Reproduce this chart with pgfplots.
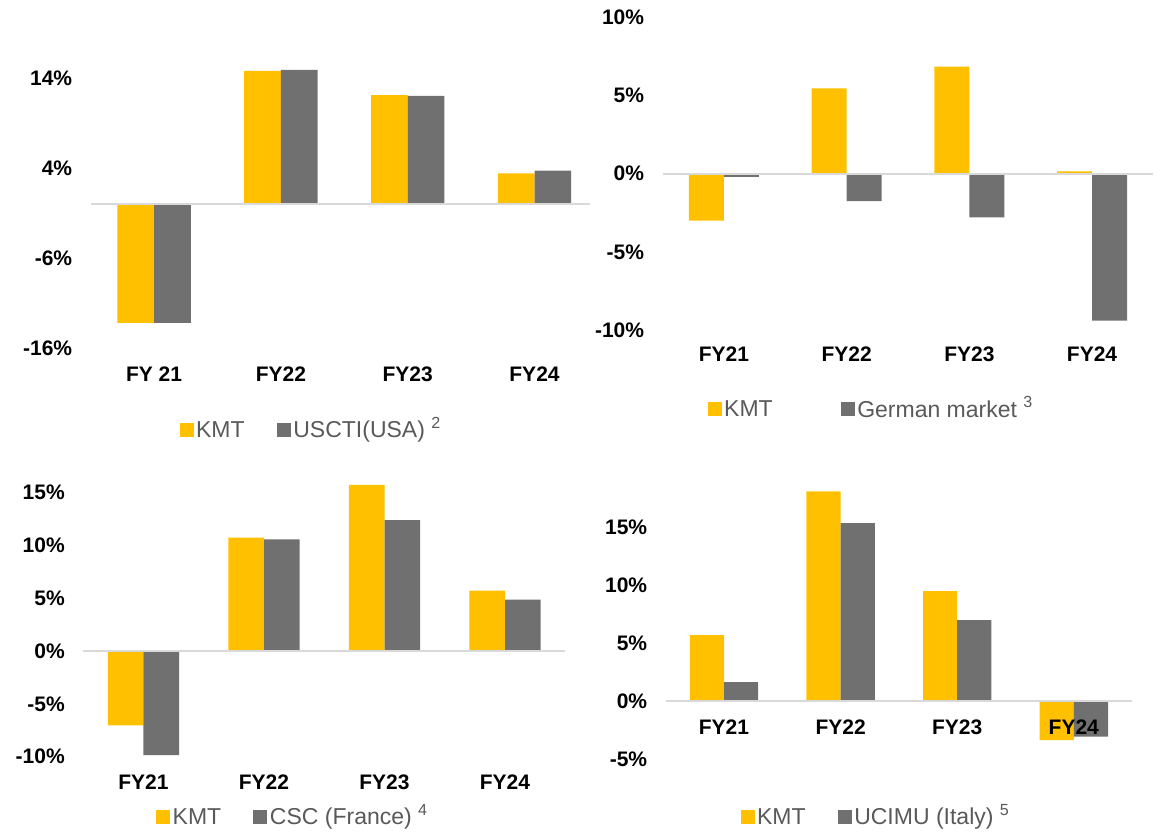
\documentclass[border=0pt]{standalone}
\usepackage{pgfplots}
\pgfplotsset{compat=1.18}
\usepackage{fontspec}
\setmainfont{Liberation Sans}

\definecolor{kmt}{HTML}{FFC000}
\definecolor{peer}{HTML}{707070}
\definecolor{legtext}{HTML}{595959}
\definecolor{zeroline}{HTML}{D9D9D9}

% same height for every legend entry, centred 7pt above the baseline
\newcommand{\legstrut}{\rule[-6pt]{0pt}{20pt}}
\newcommand{\note}[1]{\smash{\textsuperscript{#1}}}

% one style for the four panels, 1pt = 1px of the reference
\pgfplotsset{
  kmtpanel/.style={
    scale only axis,
    anchor=south west,
    ybar=0pt,
    axis on top,
    clip=false,
    axis line style={draw=none},
    major tick length=0pt,
    xtick={0,1,2,3},
    xmin=-0.5, xmax=3.5,
    tick label style={font=\fontsize{21}{25}\selectfont\bfseries, text=black},
    yticklabel style={xshift=-15pt},
    extra y ticks={0},
    extra y tick labels={},
    extra y tick style={grid=major, grid style={draw=zeroline, line width=2pt}},
    legend columns=2,
    legend style={draw=none, fill=none, anchor=west, inner sep=0pt,
      font=\fontsize{23}{27}\selectfont,
      cells={anchor=west},
      nodes={inner sep=2.5pt, text=legtext},
      /tikz/every even column/.append style={column sep=29.7pt}},
    legend image code/.code={\fill[##1] (0pt,-7pt) rectangle (14pt,7pt);},
  },
}

\begin{document}
\begin{tikzpicture}
\useasboundingbox (0,0) rectangle (1162pt,831pt);

% top left: USA
\begin{axis}[kmtpanel, at={(90.7pt,483pt)},
    width=499.6pt, height=288pt, xmax=3.44,
    ymin=-16, ymax=16,
    ytick={-16,-6,4,14}, yticklabels={-16\%,-6\%,4\%,14\%},
    xticklabels={FY 21,FY22,FY23,FY24},
    xticklabel style={yshift=-15.5pt},
    bar width=36.7pt,
    legend style={at={(0.1776,-0.285)}}]
\addplot[fill=kmt, draw=none] coordinates {(0,-13.2) (1,14.8) (2,12.1) (3,3.4)};
\addplot[fill=peer, draw=none] coordinates {(0,-13.2) (1,14.9) (2,12.0) (3,3.7)};
\legend{\legstrut KMT, \legstrut USCTI(USA) \note{2}}
\end{axis}

% top right: Germany
\begin{axis}[kmtpanel, at={(662.6pt,501pt)},
    width=490.8pt, height=312.7pt,
    ymin=-10, ymax=10,
    ytick={-10,-5,0,5,10}, yticklabels={-10\%,-5\%,0\%,5\%,10\%},
    xticklabels={FY21,FY22,FY23,FY24},
    xticklabel style={yshift=-13.5pt},
    bar width=35pt,
    legend style={at={(0.0915,-0.254)},
      /tikz/every even column/.append style={column sep=65.5pt}}]
\addplot[fill=kmt, draw=none] coordinates {(0,-3.0) (1,5.45) (2,6.85) (3,0.15)};
\addplot[fill=peer, draw=none] coordinates {(0,-0.2) (1,-1.75) (2,-2.8) (3,-9.4)};
\legend{\legstrut KMT, \legstrut German market \note{3}}
\end{axis}

% bottom left: France
\begin{axis}[kmtpanel, at={(83.25pt,74.3pt)},
    width=482pt, height=285.7pt,
    ymin=-10, ymax=17,
    ytick={-10,-5,0,5,10,15}, yticklabels={-10\%,-5\%,0\%,5\%,10\%,15\%},
    xticklabels={FY21,FY22,FY23,FY24},
    xticklabel style={yshift=-14.8pt},
    bar width=35.5pt,
    legend style={at={(0.151,-0.211)}}]
\addplot[fill=kmt, draw=none] coordinates {(0,-7.05) (1,10.7) (2,15.7) (3,5.7)};
\addplot[fill=peer, draw=none] coordinates {(0,-9.85) (1,10.55) (2,12.35) (3,4.85)};
\legend{\legstrut KMT, \legstrut CSC (France) \note{4}}
\end{axis}

% bottom right: Italy
\begin{axis}[kmtpanel, at={(665.7pt,71.7pt)},
    width=466.4pt, height=290pt,
    ymin=-5, ymax=20,
    ytick={-5,0,5,10,15}, yticklabels={-5\%,0\%,5\%,10\%,15\%},
    xticklabels={FY21,FY22,FY23,FY24},
    xticklabel style={yshift=42.8pt},
    bar width=34.2pt,
    legend style={at={(0.1600,-0.199)}}]
\addplot[fill=kmt, draw=none] coordinates {(0,5.7) (1,18.1) (2,9.5) (3,-3.35)};
\addplot[fill=peer, draw=none] coordinates {(0,1.65) (1,15.35) (2,7.0) (3,-3.05)};
\legend{\legstrut KMT, \legstrut UCIMU (Italy) \note{5}}
\end{axis}
\end{tikzpicture}
\end{document}
